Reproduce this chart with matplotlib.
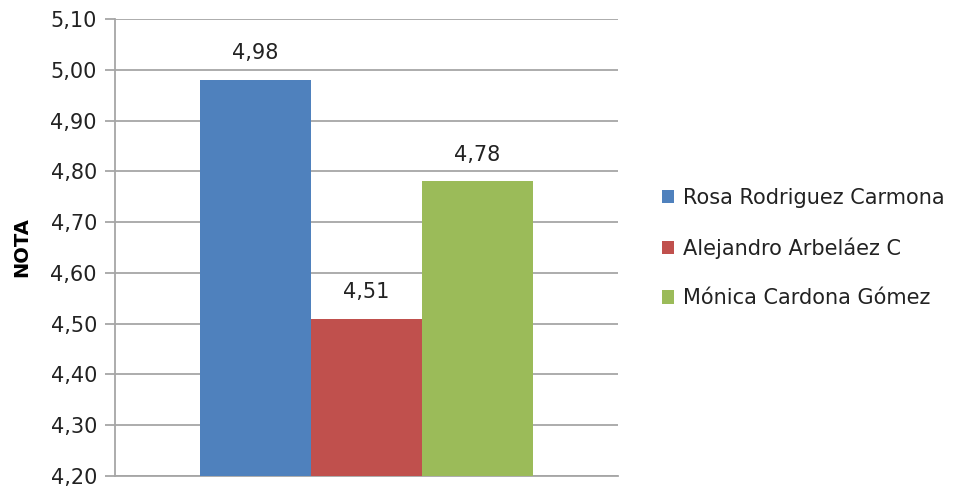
import matplotlib
matplotlib.use("Agg")
import matplotlib.pyplot as plt
from matplotlib.ticker import FuncFormatter, MultipleLocator
import numpy as np

# Notas de cada estudiante
nombres = ["Rosa Rodriguez Carmona", "Alejandro Arbeláez C", "Mónica Cardona Gómez"]
notas = [4.98, 4.51, 4.78]
colores = ["#4F81BD", "#C0504D", "#9BBB59"]

plt.rcParams['font.family'] = ['DejaVu Sans']

fig = plt.figure(figsize=(9.58, 4.90), dpi=100)
ax = fig.add_axes([115/958, 14/490, 503/958, 457/490])

ancho = 0.2207
pos = (np.arange(len(notas)) - 1) * ancho
for p, n, c, nom in zip(pos, notas, colores, nombres):
    ax.bar(p, n, width=ancho, color=c, label=nom, zorder=3)
    ax.annotate(f"{n:.2f}".replace(".", ","), (p, n), xytext=(0, 12),
                textcoords="offset points", ha="center", va="bottom",
                fontsize=15, color="#222222")

ax.set_xlim(-0.5, 0.5)
ax.set_ylim(4.2, 5.1)
ax.yaxis.set_major_locator(MultipleLocator(0.1))
ax.yaxis.set_major_formatter(FuncFormatter(lambda v, _: f"{v:.2f}".replace(".", ",")))
ax.set_xticks([])

ax.grid(axis="y", color="#a6a6a6", linewidth=1.3, zorder=0)
for s in ["top", "right"]:
    ax.spines[s].set_visible(False)
for s in ["left", "bottom"]:
    ax.spines[s].set_color("#a6a6a6")
    ax.spines[s].set_linewidth(1.3)
ax.tick_params(axis="y", length=7, width=1.3, color="#a6a6a6",
               labelsize=15, labelcolor="#222222", pad=6)

ax.set_ylabel("NOTA", fontsize=14, fontweight="bold", labelpad=14)

ax.legend(loc="center left", bbox_to_anchor=(1.05, 0.499), frameon=False,
          fontsize=15, handlelength=0.6, handleheight=0.6, handletextpad=0.4,
          labelspacing=1.42, labelcolor="#222222")

fig.savefig("out.png", dpi=100)
